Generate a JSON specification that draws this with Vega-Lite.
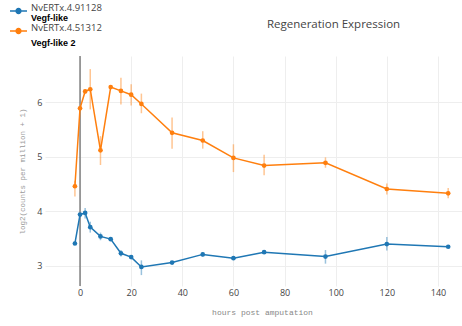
{
  "$schema": "https://vega.github.io/schema/vega-lite/v6.json",
  "width": 417,
  "height": 230,
  "autosize": {"type": "none"},
  "padding": {"left": 45, "top": 56, "right": 0, "bottom": 40},
  "background": "white",
  "config": {"view": {"stroke": null}, "font": "Open Sans"},
  "title": {"text": "Regeneration Expression", "fontSize": 11.5, "fontWeight": "normal", "color": "#444", "font": "Open Sans", "anchor": "middle", "dx": 80, "dy": 29, "offset": 0},
  "data": {"values": [
    {"id": "NvERTx.4.91128", "name": "Vegf-like", "hours": -2, "value": 3.41, "lo": 3.38, "hi": 3.44},
    {"id": "NvERTx.4.91128", "name": "Vegf-like", "hours": 0, "value": 3.94, "lo": 3.91, "hi": 3.97},
    {"id": "NvERTx.4.91128", "name": "Vegf-like", "hours": 2, "value": 3.97, "lo": 3.87, "hi": 4.06},
    {"id": "NvERTx.4.91128", "name": "Vegf-like", "hours": 4, "value": 3.71, "lo": 3.61, "hi": 3.81},
    {"id": "NvERTx.4.91128", "name": "Vegf-like", "hours": 8, "value": 3.54, "lo": 3.47, "hi": 3.61},
    {"id": "NvERTx.4.91128", "name": "Vegf-like", "hours": 12, "value": 3.49, "lo": 3.47, "hi": 3.51},
    {"id": "NvERTx.4.91128", "name": "Vegf-like", "hours": 16, "value": 3.23, "lo": 3.17, "hi": 3.29},
    {"id": "NvERTx.4.91128", "name": "Vegf-like", "hours": 20, "value": 3.16, "lo": 3.13, "hi": 3.19},
    {"id": "NvERTx.4.91128", "name": "Vegf-like", "hours": 24, "value": 2.98, "lo": 2.83, "hi": 3.1},
    {"id": "NvERTx.4.91128", "name": "Vegf-like", "hours": 36, "value": 3.06, "lo": 3.04, "hi": 3.08},
    {"id": "NvERTx.4.91128", "name": "Vegf-like", "hours": 48, "value": 3.21, "lo": 3.17, "hi": 3.25},
    {"id": "NvERTx.4.91128", "name": "Vegf-like", "hours": 60, "value": 3.14, "lo": 3.12, "hi": 3.16},
    {"id": "NvERTx.4.91128", "name": "Vegf-like", "hours": 72, "value": 3.25, "lo": 3.22, "hi": 3.28},
    {"id": "NvERTx.4.91128", "name": "Vegf-like", "hours": 96, "value": 3.17, "lo": 3.04, "hi": 3.29},
    {"id": "NvERTx.4.91128", "name": "Vegf-like", "hours": 120, "value": 3.4, "lo": 3.28, "hi": 3.53},
    {"id": "NvERTx.4.91128", "name": "Vegf-like", "hours": 144, "value": 3.35, "lo": 3.33, "hi": 3.37},
    {"id": "NvERTx.4.51312", "name": "Vegf-like 2", "hours": -2, "value": 4.46, "lo": 4.27, "hi": 4.56},
    {"id": "NvERTx.4.51312", "name": "Vegf-like 2", "hours": 0, "value": 5.89, "lo": 5.84, "hi": 5.94},
    {"id": "NvERTx.4.51312", "name": "Vegf-like 2", "hours": 2, "value": 6.2, "lo": 6.16, "hi": 6.24},
    {"id": "NvERTx.4.51312", "name": "Vegf-like 2", "hours": 4, "value": 6.24, "lo": 5.87, "hi": 6.61},
    {"id": "NvERTx.4.51312", "name": "Vegf-like 2", "hours": 8, "value": 5.12, "lo": 4.85, "hi": 5.38},
    {"id": "NvERTx.4.51312", "name": "Vegf-like 2", "hours": 12, "value": 6.28, "lo": 6.25, "hi": 6.31},
    {"id": "NvERTx.4.51312", "name": "Vegf-like 2", "hours": 16, "value": 6.21, "lo": 5.96, "hi": 6.45},
    {"id": "NvERTx.4.51312", "name": "Vegf-like 2", "hours": 20, "value": 6.14, "lo": 5.94, "hi": 6.33},
    {"id": "NvERTx.4.51312", "name": "Vegf-like 2", "hours": 24, "value": 5.97, "lo": 5.8, "hi": 6.16},
    {"id": "NvERTx.4.51312", "name": "Vegf-like 2", "hours": 36, "value": 5.44, "lo": 5.15, "hi": 5.72},
    {"id": "NvERTx.4.51312", "name": "Vegf-like 2", "hours": 48, "value": 5.3, "lo": 5.15, "hi": 5.47},
    {"id": "NvERTx.4.51312", "name": "Vegf-like 2", "hours": 60, "value": 4.98, "lo": 4.72, "hi": 5.23},
    {"id": "NvERTx.4.51312", "name": "Vegf-like 2", "hours": 72, "value": 4.84, "lo": 4.66, "hi": 5.04},
    {"id": "NvERTx.4.51312", "name": "Vegf-like 2", "hours": 96, "value": 4.89, "lo": 4.8, "hi": 4.99},
    {"id": "NvERTx.4.51312", "name": "Vegf-like 2", "hours": 120, "value": 4.41, "lo": 4.31, "hi": 4.51},
    {"id": "NvERTx.4.51312", "name": "Vegf-like 2", "hours": 144, "value": 4.33, "lo": 4.24, "hi": 4.43}
  ]},
  "layer": [
    {
      "data": {"values": [{"x0": 0}]},
      "mark": {"type": "rule", "color": "#444", "strokeWidth": 1},
      "encoding": {
        "x": {"field": "x0", "type": "quantitative", "scale": {"domain": [-13.7, 149.4], "nice": false, "zero": false}}
      }
    },
    {
      "encoding": {
        "x": {
          "field": "hours", "type": "quantitative",
          "scale": {"domain": [-13.7, 149.4], "nice": false, "zero": false},
          "axis": {
            "values": [0, 20, 40, 60, 80, 100, 120, 140],
            "grid": true, "gridColor": "#eeeeee", "domain": false, "ticks": false,
            "labelPadding": 2, "labelFontSize": 9, "labelColor": "#444", "labelFont": "Open Sans",
            "title": "hours post amputation", "titleFont": "Liberation Mono", "titleFontSize": 8,
            "titleFontWeight": "normal", "titleColor": "#888", "titlePadding": 11, "titleX": 217
          }
        },
        "color": {
          "field": "id", "type": "nominal",
          "scale": {"domain": ["NvERTx.4.91128", "NvERTx.4.51312"], "range": ["#1f77b4", "#ff7f0e"]},
          "legend": {
            "orient": "none", "legendX": -36, "legendY": -55, "title": null, "padding": 0,
            "symbolType": "M-1,0H1M-0.28,0A0.28,0.28,0,1,0,0.28,0A0.28,0.28,0,1,0,-0.28,0Z",
            "symbolSize": 289, "symbolStrokeWidth": 1.5, "symbolOpacity": 1,
            "labelFontSize": 9.5, "labelColor": "#444", "labelFont": "Open Sans", "labelBaseline": "alphabetic",
            "labelOffset": 3, "clipHeight": 20, "rowPadding": 0,
            "encode": {"symbols": {"update": {"stroke": {"scale": "color", "field": "value"}, "fill": {"scale": "color", "field": "value"}}}}
          }
        }
      },
      "layer": [
        {
          "mark": {"type": "rule", "strokeWidth": 1.5, "opacity": 0.45},
          "encoding": {
            "y": {"field": "lo", "type": "quantitative"},
            "y2": {"field": "hi"}
          }
        },
        {
          "mark": {"type": "line", "strokeWidth": 1.5},
          "encoding": {
            "y": {"field": "value", "type": "quantitative"}
          }
        },
        {
          "mark": {"type": "point", "filled": true, "size": 22, "opacity": 1},
          "encoding": {
            "y": {
              "field": "value", "type": "quantitative",
              "scale": {"domain": [2.63, 6.85], "nice": false, "zero": false},
              "axis": {
                "values": [3, 3.5, 4, 4.5, 5, 5.5, 6, 6.5], "format": "~g",
                "grid": true, "gridColor": "#eeeeee", "domain": false, "ticks": false,
                "labelPadding": 3, "labelFontSize": 9, "labelColor": "#444", "labelFont": "Open Sans",
                "title": "log2(counts per million + 1)", "titleFont": "Liberation Mono", "titleFontSize": 7.5,
                "titleFontWeight": "normal", "titleColor": "#999", "titleX": -23, "titleY": 115,
                "titleAngle": 270, "titleAlign": "center", "titleBaseline": "middle"
              }
            },
            "shape": {
              "field": "name", "type": "nominal",
              "scale": {"domain": ["Vegf-like", "Vegf-like 2"], "range": ["circle", "circle"]},
              "legend": {
                "orient": "none", "legendX": -23, "legendY": -51, "title": null, "padding": 0,
                "symbolSize": 1, "symbolOpacity": 0, "symbolStrokeWidth": 0,
                "labelFontSize": 9, "labelFontWeight": "bold", "labelColor": "#000", "labelFont": "Liberation Sans",
                "labelOffset": 0, "clipHeight": 25, "rowPadding": 0
              }
            }
          }
        }
      ]
    }
  ]
}
